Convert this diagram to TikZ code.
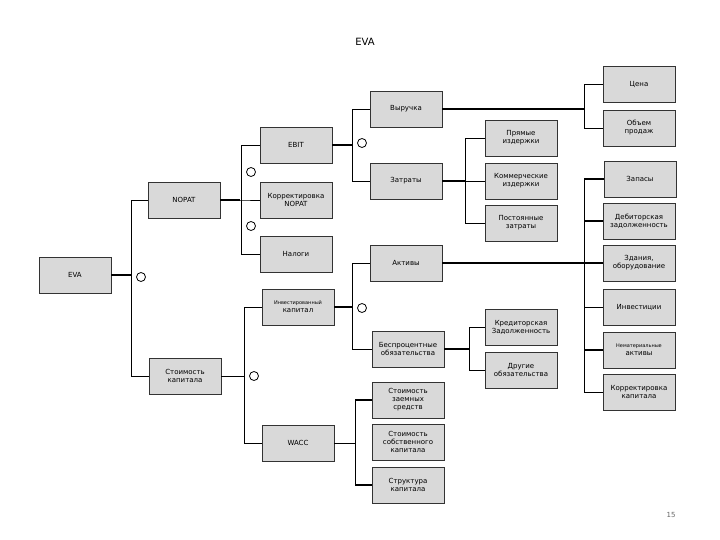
\documentclass[tikz,border=0pt]{standalone}
\usepackage{fontspec}
\setmainfont{DejaVu Sans}
\begin{document}
\begin{tikzpicture}[x=1pt,y=-1pt,
  bx/.style={draw=black!80,fill=black!15,minimum width=72pt,minimum height=36pt,inner sep=0pt,align=center,font=\fontsize{7}{8}\selectfont,
    drop shadow/.style={}},
  circ/.style={draw,thick,circle,minimum size=9pt,inner sep=0pt},
  tk/.style={line width=1.6pt},
  tn/.style={line width=0.6pt}]
\useasboundingbox (0,0) rectangle (720,540);
\node (title) at (365,42) {\fontsize{10}{12}\selectfont EVA};
\node[text=black!60] (pg) at (671,515) {\fontsize{7}{8}\selectfont 15};
% boxes
\node[bx] (eva) at (75,275) {EVA};
\node[bx] (nopat) at (184,200) {NOPAT};
\node[bx] (ebit) at (296,145) {EBIT};
\node[bx] (korn) at (296,200) {Корректировка\\NOPAT};
\node[bx] (nal) at (296,254) {Налоги};
\node[bx] (vyr) at (406,109) {Выручка};
\node[bx] (zat) at (406,181) {Затраты};
\node[bx] (akt) at (406,263) {Активы};
\node[bx] (pr) at (521,138) {Прямые\\издержки};
\node[bx] (kom) at (521,181) {Коммерческие\\издержки};
\node[bx] (post) at (521,223) {Постоянные\\затраты};
\node[bx] (cena) at (639,84) {Цена};
\node[bx] (obj) at (639,128) {Объем\\продаж};
\node[bx] (zap) at (640,179) {Запасы};
\node[bx] (deb) at (639,221) {Дебиторская\\задолженность};
\node[bx] (zd) at (639,263) {Здания,\\оборудование};
\node[bx] (inv) at (639,307) {Инвестиции};
\node[bx] (nem) at (639,350) {{\fontsize{5}{6}\selectfont Нематериальные}\\активы};
\node[bx] (kk) at (639,392) {Корректировка\\капитала};
\node[bx] (ik) at (298,307) {{\fontsize{5}{6}\selectfont Инвестированный}\\капитал};
\node[bx] (bez) at (408,349) {Беспроцентные\\обязательства};
\node[bx] (kred) at (521,327) {Кредиторская\\Задолженность};
\node[bx] (dr) at (521,370) {Другие\\обязательства};
\node[bx] (sk) at (185,376) {Стоимость\\капитала};
\node[bx] (wacc) at (298,443) {WACC};
\node[bx] (sz) at (408,400) {Стоимость\\заемных\\средств};
\node[bx] (ss) at (408,442) {Стоимость\\собственного\\капитала};
\node[bx] (str) at (408,485) {Структура\\капитала};
% circles
\node[circ] (c1) at (141,277) {};
\node[circ] (c2) at (251,172) {};
\node[circ] (c3) at (251,226) {};
\node[circ] (c4) at (362,143) {};
\node[circ] (c5) at (362,308) {};
\node[circ] (c6) at (254,376) {};
% bracket coordinates
\coordinate (b1) at (131,275);
\coordinate (b2) at (241,200);
\coordinate (b3) at (352,145);
\coordinate (b4) at (465,181);
\coordinate (b5) at (584,109);
\coordinate (b6) at (584,263);
\coordinate (b7) at (352,307);
\coordinate (b8) at (469,349);
\coordinate (b9) at (244,376);
\coordinate (b10) at (355,443);
% connectors
\draw[tk] (eva.east) -- (b1);
\draw[tn] (b1) |- (nopat.west); \draw[tn] (b1) |- (sk.west);
\draw[tk] (nopat.east) -- ++(20,0); \draw[tn] (nopat.east) -- (b2) -- (korn.west);
\draw[tn] (b2) |- (ebit.west); \draw[tn] (b2) |- (nal.west);
\draw[tk] (ebit.east) -- (b3);
\draw[tn] (b3) |- (vyr.west); \draw[tn] (b3) |- (zat.west);
\draw[tk] (zat.east) -- (b4); \draw[tn] (b4) -- (kom.west);
\draw[tn] (b4) |- (pr.west); \draw[tn] (b4) |- (post.west);
\draw[tk] (vyr.east) -- (b5);
\draw[tn] (b5) |- (cena.west); \draw[tn] (b5) |- (obj.west);
\draw[tk] (akt.east) -- (zd.west);
\draw[tn] (b6) |- (zap.west); \draw[tn] (b6) |- (kk.west);
\draw[tk] (b6|-zap.west) -- (zap.west);
\draw[tk] (b6|-deb.west) -- (deb.west);
\draw[tn] (b6|-inv.west) -- (inv.west);
\draw[tk] (b6|-nem.west) -- (nem.west);
\draw[tk] (ik.east) -- (b7);
\draw[tn] (b7) |- (akt.west); \draw[tn] (b7) |- (bez.west);
\draw[tk] (bez.east) -- (b8);
\draw[tn] (b8) |- (kred.west); \draw[tn] (b8) |- (dr.west);
\draw[tn] (sk.east) -- (b9);
\draw[tn] (b9) |- (ik.west); \draw[tn] (b9) |- (wacc.west);
\draw[tn] (wacc.east) -- (b10);
\draw[tn] (b10) |- (sz.west); \draw[tn] (b10) |- (str.west);
\draw[tk] (b10|-sz.west) -- (sz.west);
\draw[tk] (b10|-str.west) -- (str.west);
\end{tikzpicture}
\end{document}
